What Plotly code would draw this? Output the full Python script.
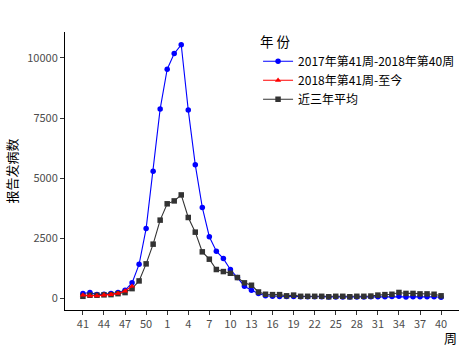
import plotly.graph_objects as go

weeks = [41, 42, 43, 44, 45, 46, 47, 48, 49, 50, 51, 52] + list(range(1, 41))
tick_labels = ["41", "44", "47", "50", "1", "4", "7", "10", "13", "16", "19", "22",
               "25", "28", "31", "34", "37", "40"]
y_ticks = [0, 2500, 5000, 7500, 10000]

season_2017 = [195, 240, 150, 165, 195, 240, 330, 640, 1410, 2900, 5280, 7880,
               9530, 10180, 10550, 7830, 5550, 3780, 2560, 1960, 1650, 1195, 860, 500,
               330, 195, 100, 80, 75, 70, 70, 60, 60, 60, 60, 55, 55, 55, 50, 50,
               55, 60, 60, 65, 70, 80, 50, 60, 60, 60, 60, 40]
season_2018 = [130, 100, 100, 130, 150, 200, 300, 500]
three_year_avg = [80, 125, 125, 140, 150, 190, 235, 400, 720, 1430, 2250, 3250,
                  3930, 4050, 4300, 3360, 2750, 1930, 1625, 1195, 1110, 1040, 860, 640,
                  540, 260, 165, 150, 150, 100, 130, 80, 80, 80, 80, 60, 80, 80, 60, 80,
                  80, 90, 130, 150, 165, 240, 200, 200, 180, 180, 165, 100]

idx = list(range(len(weeks)))
tick_idx = [i for i, w in enumerate(weeks) if str(w) in tick_labels]

fig = go.Figure()
fig.add_trace(go.Scatter(
    x=idx, y=season_2017, mode="lines+markers", name="2017年第41周-2018年第40周",
    line=dict(color="#0000FF", width=1.1),
    marker=dict(symbol="circle", size=5.5, color="#0000FF"), legendrank=1))
fig.add_trace(go.Scatter(
    x=idx, y=three_year_avg, mode="lines+markers", name="近三年平均",
    line=dict(color="#333333", width=1.1),
    marker=dict(symbol="square", size=5.5, color="#333333"), legendrank=3))
fig.add_trace(go.Scatter(
    x=idx[:len(season_2018)], y=season_2018, mode="lines+markers", name="2018年第41周-至今",
    line=dict(color="#FF0000", width=1.1),
    marker=dict(symbol="triangle-up", size=5.5, color="#FF0000"), legendrank=2))

font_family = "Noto Sans CJK SC, Liberation Sans, Arial, sans-serif"

fig.update_layout(
    width=461, height=350,
    margin=dict(l=65, r=2, t=32, b=40, autoexpand=False),
    plot_bgcolor="white", paper_bgcolor="white",
    font=dict(family=font_family, size=11, color="#4D4D4D"),
    showlegend=True,
    legend=dict(
        title=dict(text="年 份", font=dict(size=13.5, color="black")),
        x=0.49, y=1.01, xanchor="left", yanchor="top",
        font=dict(size=12, color="black"),
        bgcolor="rgba(0,0,0,0)", itemwidth=30,
    ),
    xaxis=dict(
        range=[-2.55, 53.55], tickmode="array", tickvals=tick_idx, ticktext=tick_labels,
        showline=True, linecolor="black", linewidth=1, ticks="outside",
        tickcolor="#333333", ticklen=4, showgrid=False, zeroline=False,
        tickfont=dict(size=11, color="#4D4D4D"),
    ),
    yaxis=dict(
        range=[-490, 11080], tickmode="array", tickvals=y_ticks,
        ticktext=[str(v) for v in y_ticks],
        showline=True, linecolor="black", linewidth=1, ticks="outside",
        tickcolor="#333333", ticklen=4, showgrid=False, zeroline=False,
        tickfont=dict(size=11, color="#4D4D4D"),
        title=dict(text="报告发病数", font=dict(size=13, color="black"), standoff=6),
    ),
)
fig.add_annotation(text="周", xref="paper", yref="paper", x=1.0, y=-0.1,
                   xanchor="right", yanchor="middle", showarrow=False,
                   font=dict(size=13, color="black"))

fig.write_html("out.html")
